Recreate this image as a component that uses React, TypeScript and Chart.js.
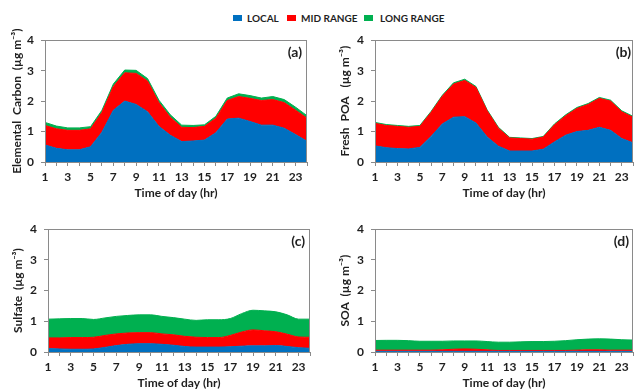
import React, { useEffect, useRef } from "react";
import { Chart, registerables } from "chart.js";

Chart.register(...registerables);

const HOURS = ["1","2","3","4","5","6","7","8","9","10","11","12","13","14","15","16","17","18","19","20","21","22","23","24"];
const Y_TICKS_MAX = 4;

const SERIES_NAMES = ["LOCAL", "MID RANGE", "LONG RANGE"];
const COLORS = ["#0070C0", "#FF0000", "#00B050"];

// (a) Elemental Carbon
const EC_LOCAL = [0.56,0.45,0.40,0.40,0.50,0.98,1.70,2.00,1.89,1.65,1.17,0.88,0.67,0.69,0.72,0.96,1.41,1.44,1.33,1.21,1.21,1.11,0.90,0.68];
const EC_MID = [0.64,0.64,0.64,0.64,0.59,0.65,0.78,0.93,1.02,1.01,0.78,0.59,0.47,0.44,0.45,0.48,0.61,0.71,0.76,0.81,0.84,0.84,0.80,0.76];
const EC_LONG = [0.10,0.09,0.08,0.08,0.07,0.07,0.08,0.09,0.10,0.08,0.08,0.08,0.07,0.07,0.05,0.06,0.08,0.09,0.09,0.08,0.10,0.10,0.10,0.08];

// (b) Fresh POA
const POA_LOCAL = [0.53,0.47,0.44,0.43,0.48,0.84,1.25,1.47,1.49,1.28,0.82,0.52,0.36,0.36,0.36,0.42,0.66,0.88,1.00,1.04,1.14,1.04,0.77,0.63];
const POA_MID = [0.74,0.73,0.73,0.71,0.69,0.79,0.91,1.09,1.19,1.17,0.86,0.59,0.43,0.41,0.39,0.40,0.56,0.64,0.76,0.85,0.95,0.96,0.88,0.84];
const POA_LONG = [0.03,0.03,0.03,0.03,0.03,0.03,0.03,0.04,0.04,0.03,0.03,0.03,0.02,0.02,0.02,0.02,0.03,0.03,0.03,0.03,0.03,0.03,0.03,0.03];

// (c) Sulfate
const SO4_LOCAL = [0.11,0.10,0.09,0.09,0.10,0.15,0.21,0.25,0.27,0.27,0.25,0.22,0.18,0.16,0.16,0.16,0.17,0.19,0.20,0.20,0.21,0.18,0.14,0.12];
const SO4_MID = [0.35,0.36,0.38,0.38,0.38,0.39,0.38,0.37,0.36,0.36,0.34,0.34,0.33,0.32,0.31,0.31,0.37,0.46,0.52,0.49,0.45,0.40,0.35,0.36];
const SO4_LONG = [0.61,0.62,0.62,0.62,0.58,0.57,0.57,0.57,0.58,0.58,0.57,0.56,0.56,0.55,0.58,0.58,0.55,0.60,0.64,0.65,0.65,0.63,0.58,0.59];

// (d) SOA
const SOA_LOCAL = [0.02,0.02,0.02,0.02,0.02,0.02,0.02,0.02,0.02,0.02,0.02,0.02,0.02,0.02,0.02,0.02,0.02,0.02,0.02,0.02,0.02,0.02,0.02,0.02];
const SOA_MID = [0.04,0.04,0.04,0.04,0.04,0.04,0.05,0.07,0.08,0.07,0.05,0.03,0.03,0.03,0.03,0.03,0.03,0.03,0.04,0.05,0.05,0.04,0.04,0.04];
const SOA_LONG = [0.315,0.32,0.32,0.31,0.29,0.29,0.28,0.27,0.26,0.27,0.27,0.27,0.27,0.28,0.29,0.29,0.30,0.32,0.34,0.35,0.36,0.36,0.34,0.33];

const FONT = "Lato, 'DejaVu Sans', sans-serif";
const TEXT = "#1f1f1f";
const AXIS = "#8a8a8a";

type PanelProps = {
  label: string;
  yTitle: string;
  series: number[][];
  tension: number;
  l: number; t: number; r: number; b: number;
  yW: number; padRight: number; labelOff: number;
};

const boxPlugin = {
  id: "panelBox",
  afterDatasetsDraw(chart: any, _args: any, opts: any) {
    const { ctx, chartArea } = chart;
    const { left, top, right, bottom } = chartArea;
    ctx.save();
    ctx.strokeStyle = AXIS;
    ctx.lineWidth = 1;
    ctx.strokeRect(Math.round(left) + 0.5, Math.round(top) + 0.5, Math.round(right - left) - 1, Math.round(bottom - top));
    ctx.font = `bold 14px ${FONT}`;
    ctx.fillStyle = TEXT;
    ctx.textAlign = "right";
    ctx.textBaseline = "middle";
    ctx.fillText(opts.label, right - opts.labelOff, top + 12);
    ctx.restore();
  },
};

function Panel(p: PanelProps) {
  const ref = useRef<HTMLCanvasElement>(null);
  const padTop = 12;
  const xH = 39;
  const left = p.l - p.yW;
  const top = p.t - padTop;
  const width = p.r + p.padRight - left;
  const height = p.b + xH - top;

  useEffect(() => {
    if (!ref.current) return;
    const chart = new Chart(ref.current, {
      type: "line",
      data: {
        labels: HOURS,
        datasets: p.series.map((d, i) => ({
          label: SERIES_NAMES[i],
          data: d,
          backgroundColor: COLORS[i],
          borderColor: COLORS[i],
          borderWidth: 1,
          pointRadius: 0,
          fill: i === 0 ? "origin" : "-1",
          tension: p.tension,
          cubicInterpolationMode: p.tension > 0 ? "monotone" : "default",
        })),
      },
      options: {
        animation: false,
        responsive: false,
        layout: { padding: { top: padTop, right: p.padRight, left: 0, bottom: 0 } },
        plugins: {
          legend: { display: false },
          tooltip: { enabled: false },
          panelBox: { label: p.label, labelOff: p.labelOff },
        } as any,
        scales: {
          x: {
            type: "category",
            offset: false,
            grid: { drawOnChartArea: false, drawTicks: true, tickLength: 4, color: AXIS },
            border: { display: true, color: AXIS },
            ticks: {
              autoSkip: false,
              maxRotation: 0,
              padding: 4,
              color: TEXT,
              font: { family: FONT, size: 12, weight: "bold" },
              callback: (_v: any, i: number) => (i % 2 === 0 ? HOURS[i] : ""),
            },
            title: {
              display: true,
              text: "Time of day (hr)",
              color: TEXT,
              font: { family: FONT, size: 12, weight: "bold" },
              padding: { top: 0, bottom: 1 },
            },
            afterFit: (s: any) => { s.height = xH; },
          },
          y: {
            stacked: true,
            min: 0,
            max: Y_TICKS_MAX,
            grid: { drawOnChartArea: false, drawTicks: true, tickLength: 4, color: AXIS },
            border: { display: true, color: AXIS },
            ticks: {
              stepSize: 0.5,
              padding: 7,
              color: TEXT,
              font: { family: FONT, size: 12, weight: "bold" },
              callback: (v: any) => (Number(v) % 1 === 0 ? String(v) : ""),
            },
            title: {
              display: true,
              text: p.yTitle,
              color: TEXT,
              font: { family: FONT, size: 12, weight: "bold" },
              padding: { top: 3, bottom: 0 },
            },
            afterFit: (s: any) => { s.width = p.yW; },
          },
        },
      } as any,
      plugins: [boxPlugin],
    });
    return () => chart.destroy();
  }, []);

  return (
    <canvas
      ref={ref}
      width={width}
      height={height}
      style={{ position: "absolute", left, top, width, height }}
    />
  );
}

function LegendItem({ x, textX, color, text }: { x: number; textX: number; color: string; text: string }) {
  return (
    <>
      <div style={{ position: "absolute", left: x, top: 15, width: 9, height: 6, background: color }} />
      <div style={{ position: "absolute", left: textX, top: 10, font: `bold 10px ${FONT}`, color: TEXT, lineHeight: "16px", whiteSpace: "nowrap" }}>{text}</div>
    </>
  );
}

export default function App() {
  return (
    <div style={{ position: "fixed", left: 0, top: 0, width: 637, height: 389, background: "#fff", overflow: "hidden" }}>
      <LegendItem x={233} textX={247} color={COLORS[0]} text={SERIES_NAMES[0]} />
      <LegendItem x={287} textX={301} color={COLORS[1]} text={SERIES_NAMES[1]} />
      <LegendItem x={364} textX={380} color={COLORS[2]} text={SERIES_NAMES[2]} />
      <Panel label="(a)" yTitle="Elemental  Carbon  (µg m⁻³)" series={[EC_LOCAL, EC_MID, EC_LONG]} tension={0}
        l={45} t={38} r={307} b={162} yW={38} padRight={8} labelOff={5} />
      <Panel label="(b)" yTitle="Fresh  POA   (µg m⁻³)" series={[POA_LOCAL, POA_MID, POA_LONG]} tension={0}
        l={375} t={38} r={637} b={162} yW={40} padRight={0} labelOff={2} />
      <Panel label="(c)" yTitle="Sulfate  (µg m⁻³)" series={[SO4_LOCAL, SO4_MID, SO4_LONG]} tension={0.4}
        l={48} t={227} r={310} b={352} yW={40} padRight={8} labelOff={5} />
      <Panel label="(d)" yTitle="SOA  (µg m⁻³)" series={[SOA_LOCAL, SOA_MID, SOA_LONG]} tension={0.4}
        l={375} t={227} r={636} b={352} yW={40} padRight={1} labelOff={4} />
    </div>
  );
}
